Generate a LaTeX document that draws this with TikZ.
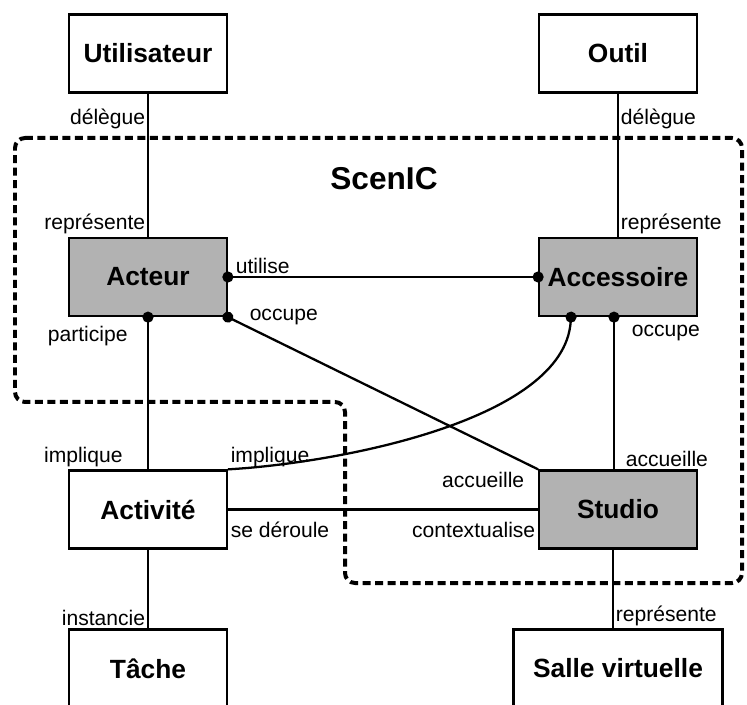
\documentclass[tikz,border=0pt]{standalone}
\usepackage{fontspec}
\setmainfont{Liberation Sans}
\usetikzlibrary{arrows.meta,calc}

\begin{document}
\begin{tikzpicture}[x=0.02cm,y=-0.02cm,
    box/.style={draw,line width=1.3pt,minimum width=3.15cm,minimum height=1.56cm,inner sep=0pt,font=\fontsize{15}{17}\selectfont\bfseries},
    scenic/.style={box,fill=black!30},
    lien/.style={line width=1.3pt},
    lbl/.style={font=\fontsize{12}{14}\selectfont,inner sep=1pt},
    dot/.style={{Circle[length=2.2mm]}-,shorten <=-1.1mm},
    dotdot/.style={{Circle[length=2.2mm]}-{Circle[length=2.2mm]},shorten <=-1.1mm,shorten >=-1.1mm}]
\useasboundingbox (0,0) rectangle (747,705);
\clip (0,0) rectangle (747,705);

% zone ScenIC
\draw[line width=0.08cm,dash pattern=on 0.16cm off 0.09cm,rounded corners=0.2cm]
    (15,138) -- (742,138) -- (742,583) -- (345,583) -- (345,402) -- (15,402) -- cycle;
\node[font=\fontsize{18}{21}\selectfont\bfseries] (titre) at (384,179) {ScenIC};

\node[box] (util) at (148,53.5) {Utilisateur};
\node[box] (outil) at (618,53.5) {Outil};
\node[scenic] (acteur) at (148,277) {Acteur};
\node[scenic] (access) at (618,277) {Accessoire};
\node[box] (activ) at (148,509.5) {Activité};
\node[scenic] (studio) at (618,509.5) {Studio};
\node[box] (tache) at (148,668.5) {Tâche};
\node[box,minimum width=4.18cm] (salle) at (618,668.5) {Salle virtuelle};

\draw[lien] (util) -- node[lbl,pos=.18,anchor=east]{délègue} node[lbl,pos=1,anchor=south east]{représente} (acteur);
\draw[lien] (outil) -- node[lbl,pos=.18,anchor=west]{délègue} node[lbl,pos=1,anchor=south west]{représente} (access);
\draw[lien,dotdot] (acteur) -- node[lbl,pos=0,anchor=south west,xshift=0.1cm]{utilise} (access);
\draw[lien,dot] (acteur) -- node[lbl,pos=0,anchor=north east,xshift=-0.35cm,yshift=-0.12cm]{participe} node[lbl,pos=1,anchor=south east,xshift=-0.45cm]{implique} (activ);
\draw[lien,dot] (acteur.south east) -- node[lbl,pos=0,anchor=west,xshift=0.38cm]{occupe} node[lbl,pos=1,anchor=north east,xshift=-0.22cm]{accueille} (studio.north west);
\draw[lien,dot] ($(access.south)+(-4,0)$) -- node[lbl,pos=0,anchor=north west,xshift=0.3cm,yshift=-0.1cm]{occupe} node[lbl,pos=1,anchor=south west,xshift=0.18cm]{accueille} ($(studio.north)+(-4,0)$);
\draw[lien,dot] ($(access.south)+(-47,0)$) .. controls +(-7,104) and +(107,-6) .. node[lbl,pos=1,anchor=south west]{implique} (activ.north east);
\draw[lien] (activ) -- node[lbl,pos=0,anchor=north west,yshift=-0.2cm]{se déroule} node[lbl,pos=1,anchor=north east,yshift=-0.2cm]{contextualise} (studio);
\draw[lien] (activ) -- node[lbl,pos=1,anchor=south east]{instancie} (tache);
\draw[lien] ($(studio.south)+(-5,0)$) -- node[lbl,pos=1,anchor=south west]{représente} ($(salle.north)+(-5,0)$);
\end{tikzpicture}
\end{document}
